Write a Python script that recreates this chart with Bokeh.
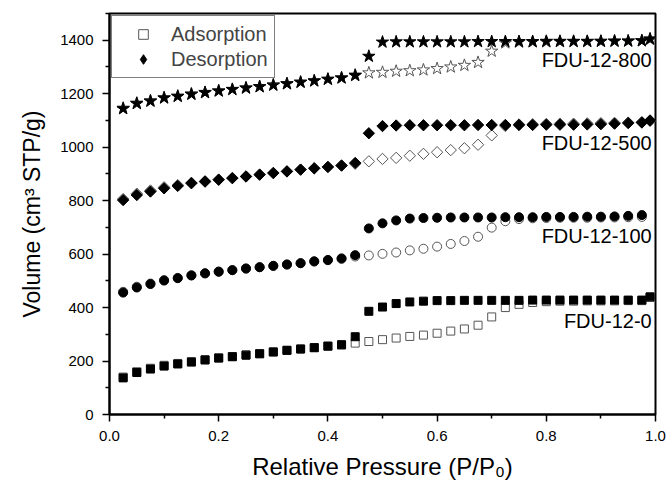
from bokeh.plotting import figure
from bokeh.models import Legend, LegendItem, FixedTicker, PrintfTickFormatter
from bokeh.core.properties import value
from bokeh.embed import file_html
from bokeh.resources import INLINE
import math

# Relative pressure (P/P0)
p_full = [0.025, 0.05, 0.075, 0.1, 0.125, 0.15, 0.175, 0.2, 0.225, 0.25, 0.275, 0.3,
          0.325, 0.35, 0.375, 0.4, 0.425, 0.45, 0.475, 0.5, 0.525, 0.55, 0.575, 0.6,
          0.625, 0.65, 0.675, 0.7, 0.725, 0.75, 0.775, 0.8, 0.825, 0.85, 0.875, 0.9,
          0.925, 0.95, 0.975, 0.99]
p_short = p_full[:39]

# FDU-12-0 (squares)
fdu0_ads = [140, 160, 173, 184, 191, 198, 205, 212, 217, 223, 228, 234, 240, 245, 250, 255, 260,
            267, 273, 280, 286, 292, 297, 304, 312, 320, 334, 365, 400, 412, 419, 422, 424,
            424, 425, 425, 425, 426, 426, 438]
fdu0_des = [137, 157, 170, 181, 189, 196, 204, 211, 216, 222, 227, 234, 240, 245, 250, 256, 261,
            291, 386, 402, 415, 421, 424, 426, 426, 427, 427, 427, 427, 427, 428, 428, 428,
            428, 428, 428, 428, 428, 428, 440]

# FDU-12-100 (circles)
fdu100_ads = [459, 478, 490, 503, 511, 521, 528, 535, 540, 546, 551, 556, 561, 566, 572, 577, 582,
              591, 595, 601, 606, 614, 620, 628, 638, 649, 665, 699, 723, 731, 734, 735,
              736, 736, 736, 737, 737, 738, 739]
fdu100_des = [456, 475, 488, 501, 510, 520, 528, 534, 540, 546, 551, 556, 561, 566, 573, 578, 584,
              596, 696, 715, 726, 733, 735, 736, 737, 737, 737, 737, 738, 738, 738, 739, 739,
              739, 740, 740, 741, 743, 746]

# FDU-12-500 (diamonds)
fdu500_ads = [806, 826, 838, 850, 858, 867, 873, 879, 885, 891, 898, 904, 910, 916, 921, 926, 932,
              938, 947, 956, 960, 968, 975, 981, 989, 996, 1009, 1044, 1079, 1085, 1086, 1087,
              1088, 1088, 1089, 1090, 1091, 1092, 1094, 1098]
fdu500_des = [802, 821, 834, 846, 855, 865, 871, 878, 884, 890, 897, 903, 909, 916, 921, 926, 931,
              941, 1052, 1079, 1081, 1082, 1082, 1082, 1082, 1082, 1083, 1083, 1083, 1083, 1083,
              1084, 1084, 1084, 1085, 1086, 1088, 1090, 1092, 1100]

# FDU-12-800 (stars)
fdu800_ads = [1146, 1165, 1174, 1185, 1191, 1199, 1205, 1211, 1216, 1222, 1227, 1233, 1238, 1243,
              1248, 1254, 1259, 1270, 1278, 1280, 1284, 1286, 1289, 1294, 1300, 1306, 1317, 1359,
              1390, 1393, 1394, 1394, 1395, 1395, 1395, 1396, 1396, 1397, 1398, 1403]
fdu800_des = [1144, 1163, 1172, 1184, 1190, 1198, 1204, 1210, 1216, 1221, 1226, 1232, 1237, 1243,
              1248, 1254, 1259, 1268, 1340, 1393, 1394, 1394, 1394, 1394, 1394, 1394, 1395, 1395,
              1395, 1395, 1395, 1396, 1396, 1396, 1396, 1396, 1397, 1397, 1398, 1405]

sample_names = ["FDU-12-800", "FDU-12-500", "FDU-12-100", "FDU-12-0"]
label_x = [0.993, 0.993, 0.993, 0.993]
label_y = [1326, 1016, 669, 350]

x_ticks = [0.0, 0.2, 0.4, 0.6, 0.8, 1.0]
x_minor = [0.1, 0.3, 0.5, 0.7, 0.9]
y_ticks = [0, 200, 400, 600, 800, 1000, 1200, 1400]
y_minor = [100, 300, 500, 700, 900, 1100, 1300, 1500]

FONT = "Liberation Sans"
OPEN_LINE = "#555555"

p = figure(width=668, height=482, x_range=(0, 1), y_range=(0, 1500),
           output_backend="svg", toolbar_location=None,
           min_border_left=109, min_border_right=13, min_border_top=13, min_border_bottom=67)
p.grid.visible = False
p.outline_line_color = "black"
p.outline_line_width = 2
p.background_fill_color = "white"
p.border_fill_color = "white"

for ax in (p.xaxis[0], p.yaxis[0]):
    ax.axis_line_width = 2
    ax.major_tick_line_width = 1.5
    ax.minor_tick_line_width = 1.5
    ax.major_tick_in = 0
    ax.major_tick_out = 7
    ax.minor_tick_in = 0
    ax.minor_tick_out = 4
    ax.major_label_text_font = FONT
    ax.major_label_text_font_size = "15px"
    ax.major_label_text_color = "black"
    ax.axis_label_text_font = FONT
    ax.axis_label_text_font_style = "normal"
    ax.axis_label_text_color = "black"
    ax.major_label_standoff = 9

p.xaxis.ticker = FixedTicker(ticks=x_ticks, minor_ticks=x_minor)
p.yaxis.ticker = FixedTicker(ticks=y_ticks, minor_ticks=y_minor)
p.xaxis.formatter = PrintfTickFormatter(format="%.1f")
p.xaxis.axis_label = "Relative Pressure (P/P\u2080)"
p.yaxis.axis_label = "Volume (cm\u00b3 STP/g)"
p.xaxis.axis_label_text_font_size = "24px"
p.yaxis.axis_label_text_font_size = "23px"
p.xaxis.axis_label_standoff = 9
p.yaxis.axis_label_standoff = 12

# adsorption (open) first, desorption (filled) on top
def open_(x, y, marker, size, angle=0.0):
    return p.scatter(x, y, marker=marker, size=size, angle=angle, fill_color="white",
                     line_color=OPEN_LINE, line_width=1)

def filled(x, y, marker, size, angle=0.0):
    return p.scatter(x, y, marker=marker, size=size, angle=angle, fill_color="black",
                     line_color="black", line_width=1)

r_ads_sq = open_(p_full, fdu0_ads, "square", 8)
filled(p_full, fdu0_des, "square", 8)
open_(p_short, fdu100_ads, "circle", 9)
filled(p_short, fdu100_des, "circle", 9)
open_(p_full, fdu500_ads, "square", 8, math.pi / 4)
filled(p_full, fdu500_des, "square", 8, math.pi / 4)
open_(p_full, fdu800_ads, "star", 13)
filled(p_full, fdu800_des, "star", 13)

# hidden diamond renderer used only for the legend symbol
r_leg_dia = p.scatter(p_full, fdu500_des, marker="diamond", size=12, fill_color="black",
                      line_color="black", visible=False)

p.text(x=label_x, y=label_y, text=sample_names, text_align="right", text_baseline="middle",
       text_font=value(FONT), text_font_size="20px", text_color="black")

legend = Legend(items=[LegendItem(label="Adsorption", renderers=[r_ads_sq]),
                       LegendItem(label="Desorption", renderers=[r_leg_dia])],
                location="top_left", margin=2, padding=6, spacing=1,
                glyph_width=50, glyph_height=24, label_height=24, label_standoff=3,
                label_text_font=FONT, label_text_font_size="20px",
                border_line_color="black", border_line_width=1,
                background_fill_color="white", background_fill_alpha=1,
                inactive_fill_alpha=0)
p.add_layout(legend)

open("out.html", "w").write(file_html(p, INLINE))
